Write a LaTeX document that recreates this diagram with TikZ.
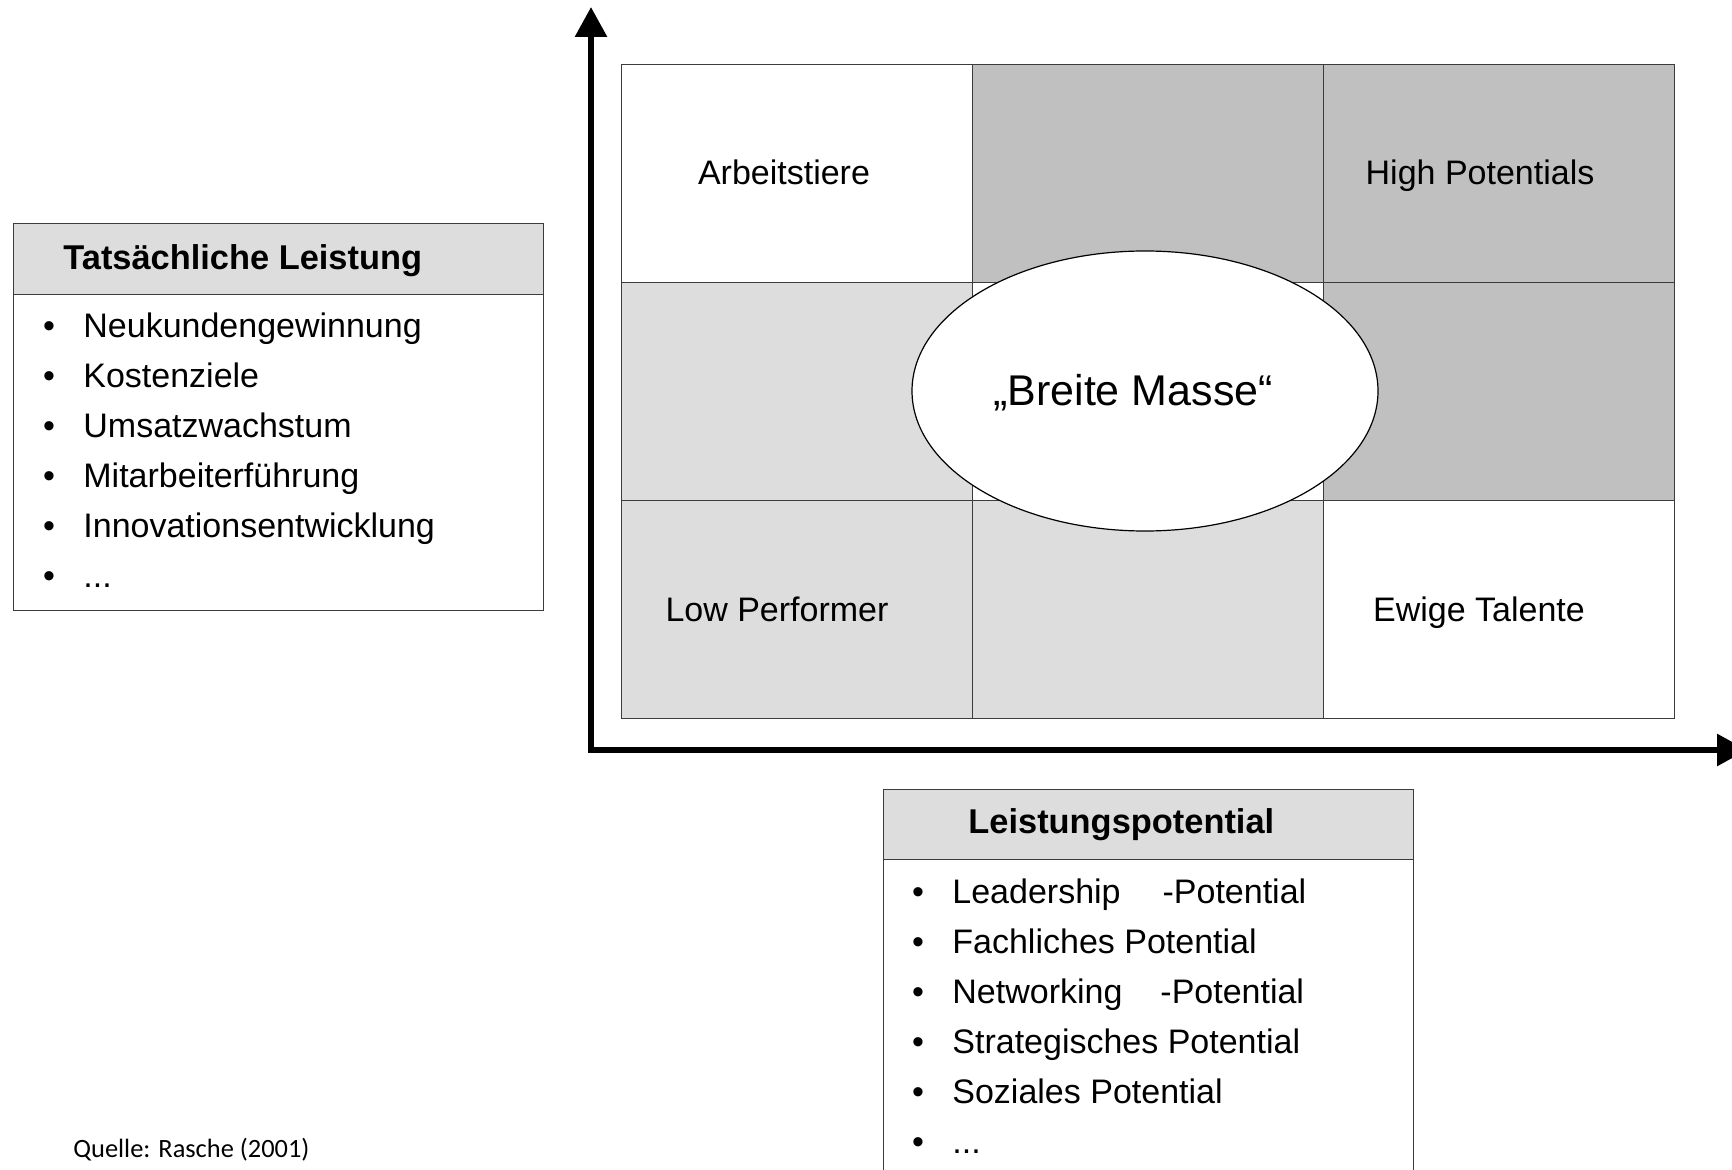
\documentclass[tikz,border=0pt]{standalone}
\usepackage{fontspec}
\setmainfont{Liberation Sans}
\newfontfamily\srcfont{Carlito}
\usetikzlibrary{arrows.meta,shapes.geometric}
\definecolor{darkcell}{RGB}{192,192,192}
\definecolor{lightcell}{RGB}{221,221,221}
\definecolor{hdrfill}{RGB}{221,221,221}
\definecolor{linegray}{RGB}{60,60,60}
\newcommand\mydots{...}
\tikzset{
  cellbox/.style={draw=linegray, line width=0.6pt, minimum width=175.5pt, minimum height=109pt, inner sep=0pt, anchor=north west},
  celltext/.style={font=\fontsize{17}{20}\selectfont, inner sep=0pt, anchor=base},
  hdrbox/.style={draw=linegray, line width=0.6pt, fill=hdrfill, minimum width=265pt, inner sep=0pt, anchor=north west},
  bodybox/.style={draw=linegray, line width=0.6pt, fill=white, minimum width=265pt, inner sep=0pt, anchor=north west},
  hdrtext/.style={font=\bfseries\fontsize{17.2}{20}\selectfont, inner sep=0pt, anchor=base west},
  itemtext/.style={font=\fontsize{17}{20}\selectfont, inner sep=0pt, anchor=base west},
  bullettext/.style={font=\fontsize{17}{20}\selectfont, inner sep=0pt, anchor=base},
  axisline/.style={line width=3pt, {Triangle[length=15pt,width=15.5pt]}-{Triangle[length=15pt,width=15.5pt]}},
}
\begin{document}
\begin{tikzpicture}[x=0.5pt,y=-0.5pt]
\useasboundingbox[fill=white] (0,0) rectangle (1732,1170);

% grid cells
\node[cellbox, fill=white]     (c11) at (621,64)  {};
\node[cellbox, fill=darkcell]  (c12) at (972,64)  {};
\node[cellbox, fill=darkcell]  (c13) at (1323,64) {};
\node[cellbox, fill=lightcell] (c21) at (621,282) {};
\node[cellbox, fill=white]     (c22) at (972,282) {};
\node[cellbox, fill=darkcell]  (c23) at (1323,282) {};
\node[cellbox, fill=lightcell] (c31) at (621,500) {};
\node[cellbox, fill=lightcell] (c32) at (972,500) {};
\node[cellbox, fill=white]     (c33) at (1323,500) {};

\node[celltext] (arb) at (784,185) {Arbeitstiere};
\node[celltext] (high) at (1480,185) {High Potentials};
\node[celltext] (low) at (777,621) {Low Performer};
\node[celltext] (ewig) at (1479,621) {Ewige Talente};

% ellipse
\node[ellipse, draw=black, line width=0.6pt, fill=white, minimum width=233pt, minimum height=140pt, inner sep=0pt] (mass) at (1145,391) {};
\node[inner sep=0pt, anchor=base, font=\fontsize{21.5}{24}\selectfont] (masstext) at (1133,406) {„Breite Masse“};

% axes
\coordinate (ytip) at (591,7);
\coordinate (origin) at (591,750);
\coordinate (xtip) at (1747,750);
\draw[axisline] (ytip) -- (origin) -- (xtip);

% left box
\node[hdrbox, minimum height=35.5pt] (lhead) at (13,223) {};
\node[bodybox, minimum height=158pt] (lbody) at (13,294) {};
\node[hdrtext] (ltitle) at (63,270) {Tatsächliche Leistung};
\foreach \t [count=\i] in {Neukundengewinnung,Kostenziele,Umsatzwachstum,Mitarbeiterführung,Innovationsentwicklung,\mydots}{
  \node[bullettext] (lb\i) at (49,{338+49.8*(\i-1)}) {•};
  \node[itemtext] (li\i) at (83,{338+49.8*(\i-1)}) {\t};
}

% right box
\node[hdrbox, minimum height=35pt] (rhead) at (883,789) {};
\node[bodybox, minimum height=160pt] (rbody) at (883,859) {};
\node[hdrtext] (rtitle) at (968,833) {Leistungspotential};
\foreach \t [count=\i] in {Leadership\hspace{21pt}-Potential,Fachliches Potential,Networking\hspace{19pt}-Potential,Strategisches Potential,Soziales Potential,\mydots}{
  \node[bullettext] (rb\i) at (918,{903+50*(\i-1)}) {•};
  \node[itemtext] (ri\i) at (952,{903+50*(\i-1)}) {\t};
}

% source
\node[inner sep=0pt, anchor=base west, font=\srcfont\fontsize{13.2}{15}\selectfont] (src) at (73,1157) {Quelle: Rasche (2001)};
\end{tikzpicture}
\end{document}
